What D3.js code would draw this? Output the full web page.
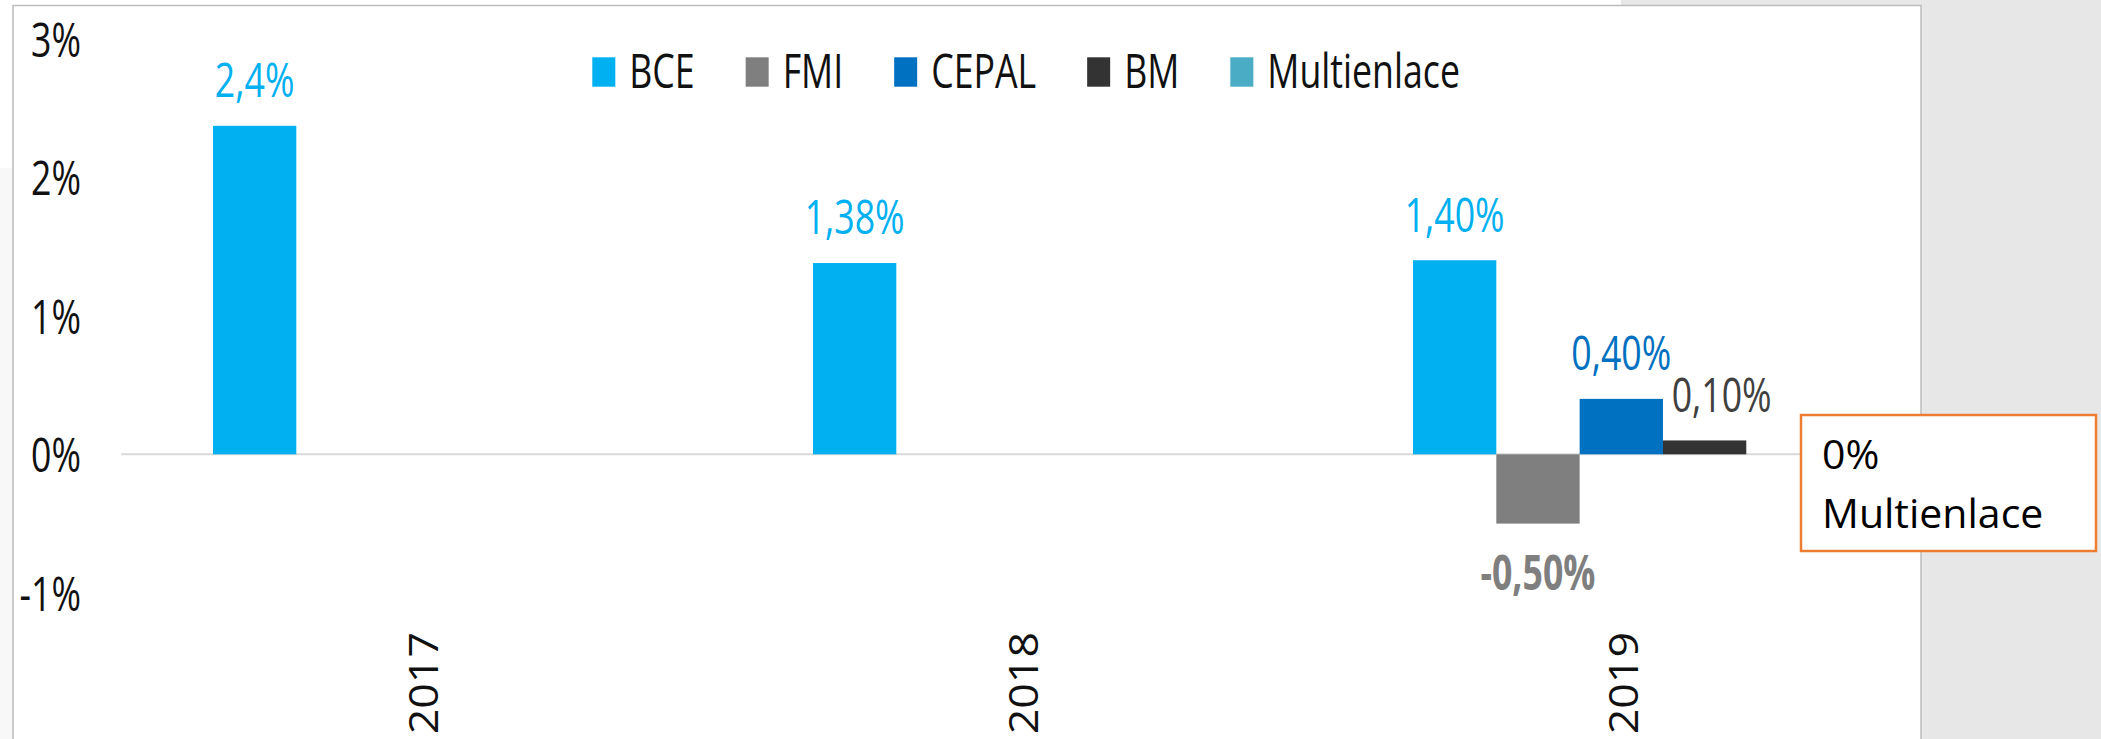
<!DOCTYPE html>
<html>
<head>
<meta charset="utf-8">
<script src="https://cdn.jsdelivr.net/npm/d3@7/dist/d3.min.js"></script>
<style>
  html, body { margin: 0; padding: 0; background: #ffffff; }
  svg { display: block; font-family: "Open Sans", "Noto Sans", sans-serif; }
</style>
</head>
<body>
<svg id="chart" width="2101" height="739"></svg>
<script>
// ---------- data ----------
const categories = ["2017", "2018", "2019"];
const seriesNames = ["BCE", "FMI", "CEPAL", "BM", "Multienlace"];
const seriesColors = ["#00B0F0", "#7F7F7F", "#0070C0", "#333333", "#4BACC6"];
const bceValues = [2.37, 1.38, 1.40];
const fmiValues = [null, null, -0.50];
const cepalValues = [null, null, 0.40];
const bmValues = [null, null, 0.10];
const multienlaceValues = [null, null, 0];
const bceLabels = ["2,4%", "1,38%", "1,40%"];
const fmiLabels = [null, null, "-0,50%"];
const cepalLabels = [null, null, "0,40%"];
const bmLabels = [null, null, "0,10%"];
const multienlaceLabels = [null, null, "0%"];
const yTicks = [-1, 0, 1, 2, 3];
const yTickLabels = ["-1%", "0%", "1%", "2%", "3%"];

const seriesValues = [bceValues, fmiValues, cepalValues, bmValues, multienlaceValues];
const seriesLabels = [bceLabels, fmiLabels, cepalLabels, bmLabels, multienlaceLabels];
const labelColors = ["#00B0F0", "#7F7F7F", "#0070C0", "#404040", "#4BACC6"];

// ---------- layout ----------
const SX = 0.75;          // horizontal squeeze of the reference's text
const FS = 47.6;          // main font size
const svg = d3.select("#chart");

// background pieces (outside the chart frame)
svg.append("rect").attr("x", 0).attr("y", 168).attr("width", 13).attr("height", 571).attr("fill", "#f8f8f8");
svg.append("rect").attr("x", 1621).attr("y", 0).attr("width", 480).attr("height", 6).attr("fill", "#e7e7e7");
svg.append("rect").attr("x", 1921).attr("y", 0).attr("width", 180).attr("height", 739).attr("fill", "#e7e7e7");
// chart frame
svg.append("rect").attr("x", 13).attr("y", 5.5).attr("width", 1908).attr("height", 760)
  .attr("fill", "#ffffff").attr("stroke", "#bcbcbc").attr("stroke-width", 1.5);

const x0 = d3.scaleBand().domain(categories).range([121.3, 1921.3]).paddingInner(0.3056).paddingOuter(0.1528);
const x1 = d3.scaleBand().domain(seriesNames).range([0, x0.bandwidth()]);
const y = d3.scaleLinear().domain([-1, 3]).range([592.9, 38.5]);
const color = d3.scaleOrdinal().domain(seriesNames).range(seriesColors);

// zero line
svg.append("line")
  .attr("x1", x0.range()[0]).attr("x2", x0.range()[1])
  .attr("y1", y(0)).attr("y2", y(0))
  .attr("stroke", "#d9d9d9").attr("stroke-width", 2);

// y axis labels
const yAxis = d3.axisLeft(y).tickValues(yTicks)
  .tickFormat((d, i) => yTickLabels[i]).tickSize(0).tickPadding(0);
const gy = svg.append("g").attr("transform", "translate(81,0)").call(yAxis);
gy.select(".domain").remove();
gy.selectAll("text")
  .attr("font-size", FS).attr("font-family", "Open Sans").attr("fill", "#111111")
  .attr("dy", "0.37em").attr("transform", `scale(${SX},1)`);

// bars
const barData = [];
seriesNames.forEach((s, si) => {
  categories.forEach((c, ci) => {
    const v = seriesValues[si][ci];
    if (v !== null) barData.push({ s, si, c, v, label: seriesLabels[si][ci] });
  });
});
svg.append("g").selectAll("rect").data(barData).join("rect")
  .attr("x", d => x0(d.c) + x1(d.s))
  .attr("width", x1.bandwidth())
  .attr("y", d => y(Math.max(0, d.v)))
  .attr("height", d => Math.abs(y(d.v) - y(0)))
  .attr("fill", d => color(d.s));

// data labels (Multienlace is shown in the call-out box instead)
const labelData = barData.filter(d => d.label && d.s !== "Multienlace");
svg.append("g").selectAll("text").data(labelData).join("text")
  .attr("transform", d => {
    const cx = x0(d.c) + x1(d.s) + x1.bandwidth() / 2 + (d.s === "BM" ? 17 : 0);
    const by = d.v >= 0 ? y(d.v) - 28.7 : y(d.v) + 66.7;
    return `translate(${cx},${by}) scale(${SX},1)`;
  })
  .attr("text-anchor", "middle")
  .attr("font-size", FS)
  .attr("font-weight", d => d.v < 0 ? "bold" : "normal")
  .attr("fill", d => labelColors[d.si])
  .text(d => d.label);

// category axis (rotated labels)
const xAxis = d3.axisBottom(x0).tickSize(0);
const gx = svg.append("g").attr("transform", "translate(0,632)").call(xAxis);
gx.select(".domain").remove();
gx.selectAll("text")
  .attr("x", 0).attr("y", 0).attr("dy", 0)
  .attr("text-anchor", "end")
  .attr("font-size", 39.6).attr("font-family", "Open Sans").attr("fill", "#111111")
  .attr("transform", "translate(17,0) rotate(-90) scale(1.13,1)");

// legend
const legend = svg.append("g");
let lx = 592.3;
seriesNames.forEach((s, i) => {
  legend.append("rect").attr("x", lx).attr("y", 57.3).attr("width", 23).attr("height", 29.4).attr("fill", seriesColors[i]);
  const t = legend.append("text")
    .attr("transform", `translate(${lx + 37},88.3) scale(${SX},1)`)
    .attr("font-size", FS).attr("fill", "#111111").text(s);
  const w = t.node().getComputedTextLength() * SX;
  lx += 37 + w + 51;
});

// call-out box for Multienlace
const box = svg.append("g");
box.append("rect").attr("x", 1801).attr("y", 415).attr("width", 295).attr("height", 136)
  .attr("fill", "#ffffff").attr("stroke", "#ED7D31").attr("stroke-width", 2.5);
box.append("text").attr("x", 1822).attr("y", 469.3).attr("font-size", 41).attr("fill", "#000000")
  .text(multienlaceLabels[2]);
box.append("text").attr("x", 1822).attr("y", 528.3).attr("font-size", 41).attr("fill", "#000000")
  .text(seriesNames[4]);
</script>
</body>
</html>
